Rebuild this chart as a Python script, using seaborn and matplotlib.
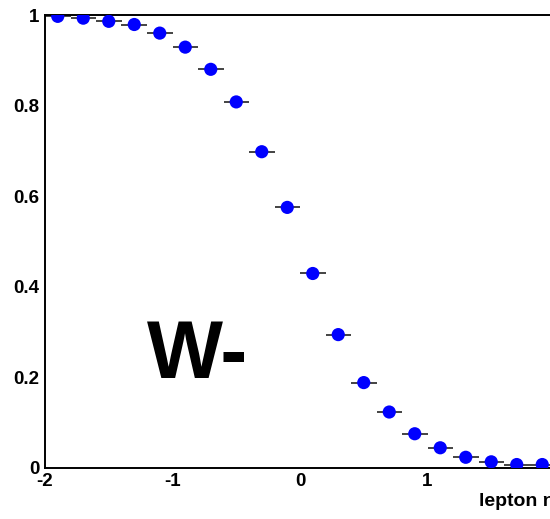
import matplotlib
matplotlib.use("Agg")
import matplotlib.pyplot as plt
import seaborn as sns
import pandas as pd

# Bin centres in lepton eta (bin width 0.2) and the fraction in each bin
eta_centres = [-1.9, -1.7, -1.5, -1.3, -1.1, -0.9, -0.7, -0.5, -0.3, -0.1,
               0.1, 0.3, 0.5, 0.7, 0.9, 1.1, 1.3, 1.5, 1.7, 1.9]
fraction = [0.997, 0.993, 0.986, 0.979, 0.960, 0.929, 0.880, 0.808, 0.698, 0.575,
            0.429, 0.294, 0.188, 0.123, 0.075, 0.044, 0.023, 0.013, 0.007, 0.007]
half_bin = [0.1] * len(eta_centres)

x_ticks = [-2, -1, 0, 1, 2]
y_ticks = [0, 0.2, 0.4, 0.6, 0.8, 1.0]
y_tick_labels = ["0", "0.2", "0.4", "0.6", "0.8", "1"]
x_tick_labels = ["-2", "-1", "0", "1", "2"]

df = pd.DataFrame({"eta": eta_centres, "frac": fraction, "xerr": half_bin})

sns.set_style("white")
plt.rcParams["font.family"] = ["Liberation Sans", "DejaVu Sans"]
plt.rcParams["font.weight"] = "bold"
plt.rcParams["text.color"] = "black"

fig = plt.figure(figsize=(5.5, 5.19), dpi=100)
ax = fig.add_axes([45 / 550, 51.3 / 519, 510 / 550, 452.7 / 519])

# horizontal bin-width bars
ax.errorbar(df["eta"], df["frac"], xerr=df["xerr"], fmt="none",
            ecolor="#111111", elinewidth=1.1, capsize=0, zorder=2)
sns.scatterplot(data=df, x="eta", y="frac", ax=ax, color="#0000ff",
                s=90, edgecolor="none", linewidth=0, zorder=3, legend=False)

ax.set_xlim(-2, 2)
ax.set_ylim(0, 1)
ax.set_xticks(x_ticks)
ax.set_xticklabels(x_tick_labels)
ax.set_yticks(y_ticks)
ax.set_yticklabels(y_tick_labels)
ax.tick_params(axis="both", direction="in", length=11, width=1.1,
               labelsize=13.5, color="black", labelcolor="black", pad=4)
for lab in ax.get_xticklabels() + ax.get_yticklabels():
    lab.set_fontweight("bold")

for side in ["left", "bottom", "top", "right"]:
    ax.spines[side].set_visible(True)
    ax.spines[side].set_color("black")
    ax.spines[side].set_linewidth(1.4)

ax.set_xlabel("")
ax.set_ylabel("")
ax.text(2.0, -0.085, "lepton \u03b7", ha="right", va="baseline",
        fontsize=14, fontweight="bold", color="black",
        transform=ax.transData, clip_on=False)

ax.text(-1.2, 0.198, "W-", ha="left", va="baseline", fontsize=58,
        fontweight="bold", color="black")

fig.savefig("out.png", dpi=100)
